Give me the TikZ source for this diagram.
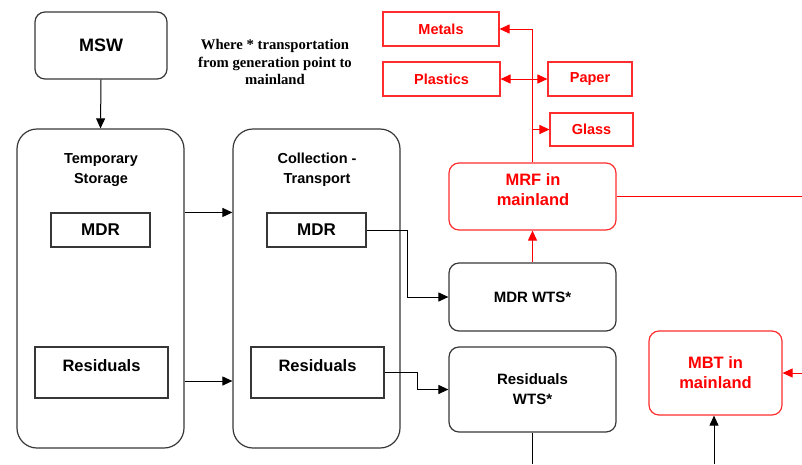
\documentclass[tikz,border=0pt]{standalone}
\usepackage{fontspec}
\setmainfont{Liberation Sans}
\newfontfamily\notefont{Liberation Serif}
\usetikzlibrary{arrows.meta}

\definecolor{boxgray}{RGB}{55,55,55}
\definecolor{boxred}{RGB}{255,45,45}
\definecolor{txtred}{RGB}{255,0,0}

\begin{document}
\begin{tikzpicture}[x=1pt,y=-1pt,
  every node/.style={inner sep=0pt},
  fsz/.style={font=\bfseries\fontsize{#1}{20}\selectfont},
  rbox/.style={draw=boxgray, line width=1.2pt, rounded corners=#1},
  rbox/.default=10pt,
  sbox/.style={draw=boxgray, line width=1.1pt},
  redrbox/.style={draw=boxred, line width=1.2pt, rounded corners=10pt, text=txtred},
  redsbox/.style={draw=boxred, line width=1.1pt, text=txtred},
  tip/.tip={Triangle[length=10pt,width=9pt]},
  conn/.style={draw=black, line width=1pt, -tip},
  line/.style={draw=black, line width=1pt},
  rconn/.style={draw=txtred, line width=1pt, -tip},
  rline/.style={draw=txtred, line width=1pt},
  lbl/.style={align=center, fsz=#1},
]
\useasboundingbox (0,0) rectangle (802,464);

% source
\node[rbox, minimum width=132pt, minimum height=67pt, fsz=18] (msw) at (101,45.5) {MSW};

% explanatory note
\node[align=center, font=\notefont\bfseries\fontsize{14.7}{17.5}\selectfont] (note) at (275,62)
  {Where * transportation\\from generation point to\\mainland};

% temporary storage stage
\node[rbox=20pt, minimum width=167pt, minimum height=319pt] (ts) at (100.5,288.5) {};
\node[lbl=14.5] (tstitle) at (101,170) {Temporary\\Storage};
\node[sbox, minimum width=99pt, minimum height=34pt, fsz=17] (tsmdr) at (100.5,230) {MDR};
\node[sbox, minimum width=133pt, minimum height=51pt] (tsres) at (101.5,372.5) {};
\node[fsz=16.5] (tsrestxt) at (101.5,366) {Residuals};

% collection / transport stage
\node[rbox=20pt, minimum width=167pt, minimum height=319pt] (ct) at (316.5,288.5) {};
\node[lbl=14.5] (cttitle) at (317,170) {Collection -\\Transport};
\node[sbox, minimum width=99pt, minimum height=34pt, fsz=17] (ctmdr) at (316.5,230) {MDR};
\node[sbox, minimum width=133pt, minimum height=51pt] (ctres) at (317.5,372.5) {};
\node[fsz=16.5] (ctrestxt) at (317.5,366) {Residuals};

% transfer stations
\node[rbox, minimum width=167pt, minimum height=68pt, fsz=15] (mdrwts) at (532.5,297) {MDR WTS*};
\node[rbox, minimum width=167pt, minimum height=85pt, lbl=15] (reswts) at (532.5,389.5) {Residuals\\WTS*};

% mainland facilities
\node[redrbox, minimum width=167pt, minimum height=67pt] (mrf) at (532.5,196.5) {};
\node[lbl=16.5, text=txtred] (mrftxt) at (533,190) {MRF in\\mainland};
\node[redrbox, minimum width=133pt, minimum height=84pt, lbl=16.5] (mbt) at (715.5,373) {MBT in\\mainland};

% recovered materials
\node[redsbox, minimum width=116pt, minimum height=34pt, fsz=14.5] (metals) at (441,29) {Metals};
\node[redsbox, minimum width=117pt, minimum height=34pt, fsz=14.5] (plastics) at (441.5,79) {Plastics};
\node[redsbox, minimum width=84pt, minimum height=34pt, fsz=14.5] (paper) at (590,79) {Paper};
\node[redsbox, minimum width=83pt, minimum height=33pt, fsz=14.5] (glass) at (591.5,129.5) {Glass};

% open ends at the border
\coordinate (mrfout) at (802,196.5);
\coordinate (mbtin) at (802,373);
\coordinate (mbtbot) at (714,464);
\coordinate (wtsbot) at (532.5,464);

% black flows
\draw[conn] (msw.south) -- (ts.north);
\draw[conn] (ts.east |- tsmdr.north) -- (ct.west |- tsmdr.north);
\draw[conn] (ts.east |- 0,381) -- (ct.west |- 0,381);
\draw[conn] (ctmdr.east) -- ++(41,0) |- (mdrwts.west);
\draw[conn] (ctres.east) -- ++(33,0) |- (reswts.west);
\draw[line] (reswts.south) -- (wtsbot);
\draw[conn] (mbtbot) -- (mbt.south -| mbtbot);

% red flows
\draw[rconn] (mdrwts.north) -- (mrf.south);
\draw[rconn] (mrf.north) |- (metals.east);
\draw[rconn, tip-tip] (plastics.east) -- (paper.west);
\draw[rconn] (mrf.north |- glass.west) -- (glass.west);
\draw[rline] (mrf.east) -- (mrfout);
\draw[rconn] (mbtin) -- (mbt.east);
\end{tikzpicture}
\end{document}
